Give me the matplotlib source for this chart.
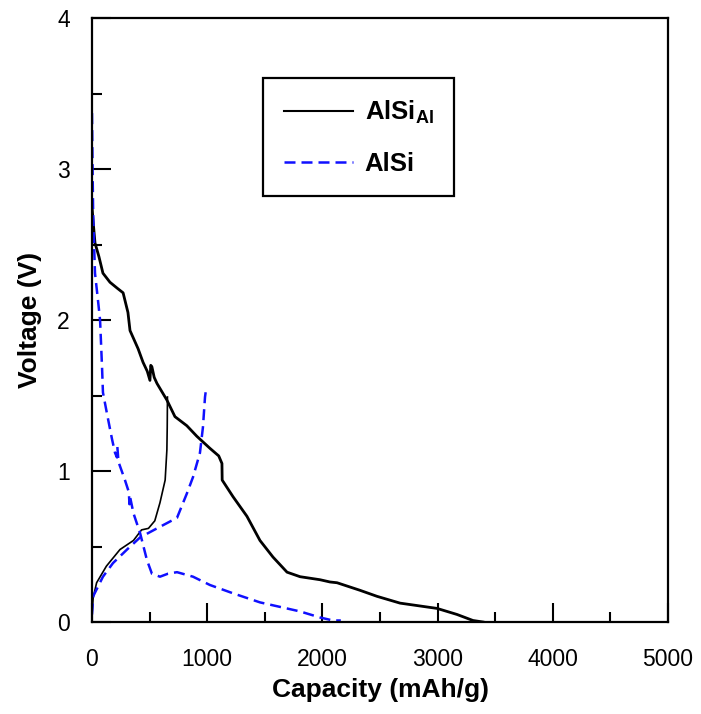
import numpy as np
import matplotlib
matplotlib.use('Agg')
from matplotlib import pyplot as plt
from matplotlib.lines import Line2D

plt.rcParams['font.family'] = ['Liberation Sans', 'DejaVu Sans']
plt.rcParams['mathtext.fontset'] = 'custom'
plt.rcParams['mathtext.rm'] = 'Liberation Sans'
plt.rcParams['mathtext.bf'] = 'Liberation Sans:bold'

# AlSi_Al discharge (capacity mAh/g, voltage V)
alsial_dis_cap = [0, 10, 26, 60, 95, 156, 220, 270, 312, 330, 400, 443, 480, 503, 510, 520,
                  540, 564, 650, 720, 823, 910, 1024, 1100, 1128, 1130, 1224, 1345, 1458,
                  1571, 1693, 1806, 1979, 2066, 2127, 2326, 2474, 2674, 2995, 3168, 3307, 3394]
alsial_dis_v = [2.75, 2.65, 2.51, 2.42, 2.31, 2.25, 2.21, 2.18, 2.05, 1.93, 1.81, 1.72, 1.66,
                1.60, 1.70, 1.69, 1.62, 1.58, 1.47, 1.36, 1.30, 1.23, 1.15, 1.10, 1.05, 0.94,
                0.83, 0.70, 0.54, 0.43, 0.33, 0.30, 0.28, 0.265, 0.26, 0.21, 0.17, 0.125,
                0.09, 0.05, 0.01, 0.0]

# AlSi_Al charge
alsial_chg_cap = [0, 10, 40, 125, 243, 360, 430, 490, 545, 590, 635, 650, 653, 655]
alsial_chg_v = [0.05, 0.16, 0.26, 0.37, 0.48, 0.54, 0.61, 0.62, 0.67, 0.79, 0.94, 1.14, 1.29, 1.49]

# AlSi discharge
alsi_dis_cap = [0, 5, 10, 15, 26, 52, 70, 87, 95, 130, 174, 200, 217, 220, 230, 286, 320, 325,
                330, 360, 417, 477, 520, 590, 660, 738, 877, 1024, 1224, 1458, 1632, 1806,
                1979, 2092, 2160]
alsi_dis_v = [3.37, 3.0, 2.7, 2.57, 2.31, 2.13, 2.0, 1.69, 1.52, 1.38, 1.21, 1.12, 1.09, 1.16,
              1.06, 0.94, 0.86, 0.78, 0.83, 0.72, 0.59, 0.41, 0.32, 0.30, 0.32, 0.33, 0.30,
              0.245, 0.19, 0.13, 0.10, 0.07, 0.03, 0.01, 0.01]

# AlSi charge
alsi_chg_cap = [0, 10, 95, 182, 304, 417, 564, 738, 823, 877, 937, 963, 981, 988]
alsi_chg_v = [0.05, 0.17, 0.30, 0.39, 0.48, 0.56, 0.62, 0.69, 0.85, 0.96, 1.12, 1.29, 1.49, 1.53]

fig = plt.figure(figsize=(7.01, 7.14), dpi=100)
ax = fig.add_axes([92/701, 1 - 622/714, 576/701, 604/714])

blue = '#1010ff'
dash = (0, (4.4, 2.4))
ax.plot(alsial_dis_cap, alsial_dis_v, color='black', lw=2.0)
ax.plot(alsial_chg_cap, alsial_chg_v, color='black', lw=1.2)
ax.plot(alsi_dis_cap, alsi_dis_v, color=blue, lw=1.8, linestyle=dash)
ax.plot(alsi_chg_cap, alsi_chg_v, color=blue, lw=1.8, linestyle=dash)

ax.set_xlim(0, 5000)
ax.set_ylim(0, 4)
ax.set_xticks([0, 1000, 2000, 3000, 4000, 5000])
ax.set_xticks([500, 1500, 2500, 3500, 4500], minor=True)
ax.set_yticks([0, 1, 2, 3, 4])
ax.set_yticks([0.5, 1.5, 2.5, 3.5], minor=True)
ax.tick_params(which='both', direction='in', width=1.5, labelsize=16.5)
ax.tick_params(which='major', length=14)
ax.tick_params(which='minor', length=7)
ax.tick_params(axis='x', which='major', pad=19)
ax.tick_params(axis='y', which='major', pad=16)
for s in ax.spines.values():
    s.set_linewidth(1.6)

ax.set_xlabel('Capacity (mAh/g)', fontsize=19, fontweight='bold', labelpad=5)
ax.set_ylabel('Voltage (V)', fontsize=19, fontweight='bold', labelpad=11)

handles = [Line2D([], [], color='black', lw=1.5),
           Line2D([], [], color=blue, lw=1.8, linestyle=(0, (4.4, 2.4)))]
labels = [r'$\mathbf{AlSi_{Al}}$', 'AlSi']
leg = ax.legend(handles, labels, loc='upper left', bbox_to_anchor=(0.297, 0.90),
                frameon=True, fancybox=False, edgecolor='black', framealpha=1,
                prop={'weight': 'bold', 'size': 18.5}, handlelength=2.7,
                borderpad=0.8, labelspacing=1.0, handletextpad=0.45, borderaxespad=0)
leg.get_frame().set_linewidth(1.6)

plt.savefig('out.png', dpi=100)
